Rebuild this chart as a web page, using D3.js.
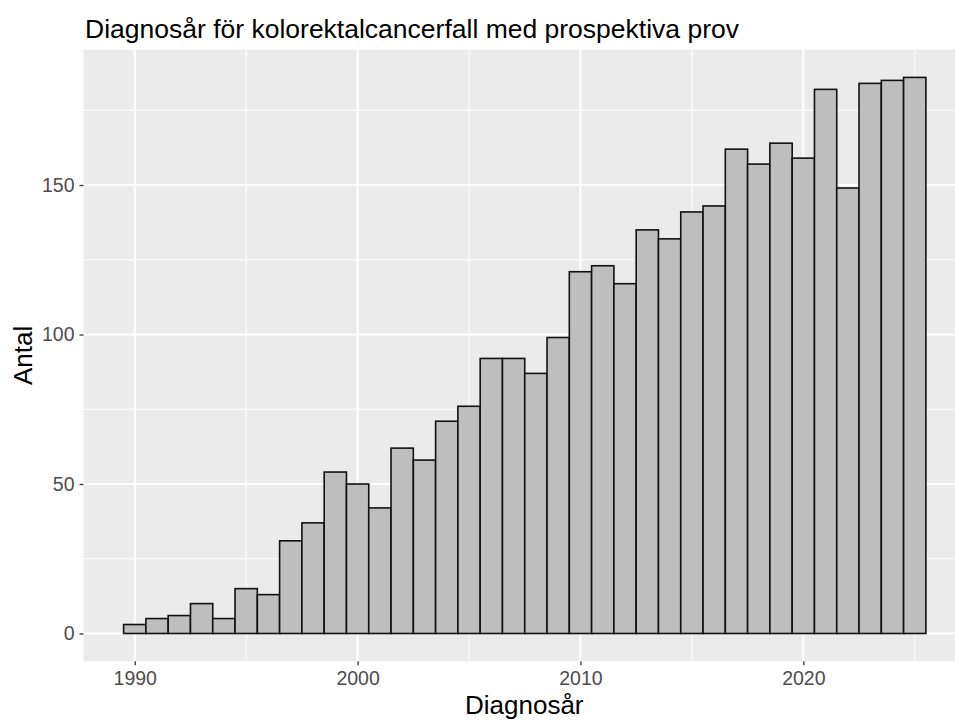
<!DOCTYPE html>
<html>
<head>
<meta charset="utf-8">
<script src="https://cdn.jsdelivr.net/npm/d3@7"></script>
<style>
  body { margin: 0; background: #fff; }
  text { font-family: "Liberation Sans", Arial, sans-serif; }
</style>
</head>
<body>
<svg id="chart" width="955" height="722"></svg>
<script>
// data, one bin per year
var years = d3.range(1990, 2026);
var counts = [3, 5, 6, 10, 5, 15, 13, 31, 37, 54,
              50, 42, 62, 58, 71, 76, 92, 92, 87, 99,
              121, 123, 117, 135, 132, 141, 143, 162, 157, 164,
              159, 182, 149, 184, 185, 186];
var xTicks = [1990, 2000, 2010, 2020];
var xMinor = [1995, 2005, 2015, 2025];
var yTicks = [0, 50, 100, 150];
var yMinor = [25, 75, 125, 175];

var svg = d3.select("#chart");

var panel = {left: 83.5, right: 966, top: 49.6, bottom: 661.3};

// ggplot style 5% expansion
var x = d3.scaleLinear()
  .domain([1987.7, 2027.3])
  .range([panel.left, panel.right]);
var y = d3.scaleLinear()
  .domain([-9.3, 195.3])
  .range([panel.bottom, panel.top]);

svg.append("rect")
  .attr("x", panel.left)
  .attr("y", panel.top)
  .attr("width", panel.right - panel.left)
  .attr("height", panel.bottom - panel.top)
  .attr("fill", "#ebebeb");

// grid
svg.selectAll(".ygrid-minor")
  .data(yMinor)
  .enter().append("line")
    .attr("x1", panel.left).attr("x2", panel.right)
    .attr("y1", d => y(d)).attr("y2", d => y(d))
    .attr("stroke", "#fff").attr("stroke-width", 1);
svg.selectAll(".xgrid-minor")
  .data(xMinor)
  .enter().append("line")
    .attr("y1", panel.top).attr("y2", panel.bottom)
    .attr("x1", d => x(d)).attr("x2", d => x(d))
    .attr("stroke", "#fff").attr("stroke-width", 1);
svg.selectAll(".ygrid")
  .data(yTicks)
  .enter().append("line")
    .attr("x1", panel.left).attr("x2", panel.right)
    .attr("y1", d => y(d)).attr("y2", d => y(d))
    .attr("stroke", "#fff").attr("stroke-width", 2);
svg.selectAll(".xgrid")
  .data(xTicks)
  .enter().append("line")
    .attr("y1", panel.top).attr("y2", panel.bottom)
    .attr("x1", d => x(d)).attr("x2", d => x(d))
    .attr("stroke", "#fff").attr("stroke-width", 2);

// bars
svg.selectAll(".bar")
  .data(years)
  .enter().append("rect")
    .attr("class", "bar")
    .attr("x", d => x(d - 0.5))
    .attr("width", d => x(d + 0.5) - x(d - 0.5))
    .attr("y", (d, i) => y(counts[i]))
    .attr("height", (d, i) => y(0) - y(counts[i]))
    .attr("fill", "#bebebe")
    .attr("stroke", "#111")
    .attr("stroke-width", 1.6);

// axes
var xAxis = svg.append("g")
  .attr("transform", "translate(0," + panel.bottom + ")")
  .call(d3.axisBottom(x).tickValues(xTicks).tickFormat(d3.format("d")).tickSize(4).tickPadding(6));
var yAxis = svg.append("g")
  .attr("transform", "translate(" + panel.left + ",0)")
  .call(d3.axisLeft(y).tickValues(yTicks).tickSize(4).tickPadding(5));

[xAxis, yAxis].forEach(function(a) {
  a.select(".domain").remove();
  a.selectAll(".tick line").attr("stroke", "#333").attr("stroke-width", 1.3);
  a.selectAll(".tick text")
    .attr("fill", "#4d4d4d")
    .style("font-size", "19.5px")
    .style("font-family", "'Liberation Sans', Arial, sans-serif");
});

// titles
svg.append("text")
  .attr("x", 85)
  .attr("y", 38)
  .attr("font-size", "26.5px")
  .attr("fill", "#000")
  .text("Diagnosår för kolorektalcancerfall med prospektiva prov");

svg.append("text")
  .attr("x", (panel.left + 955) / 2 + 5)
  .attr("y", 714)
  .attr("text-anchor", "middle")
  .attr("font-size", "26px")
  .attr("fill", "#000")
  .text("Diagnosår");

svg.append("text")
  .attr("transform", "translate(32," + ((panel.top + panel.bottom) / 2) + ") rotate(-90)")
  .attr("text-anchor", "middle")
  .attr("font-size", "26px")
  .attr("fill", "#000")
  .text("Antal");
</script>
</body>
</html>
